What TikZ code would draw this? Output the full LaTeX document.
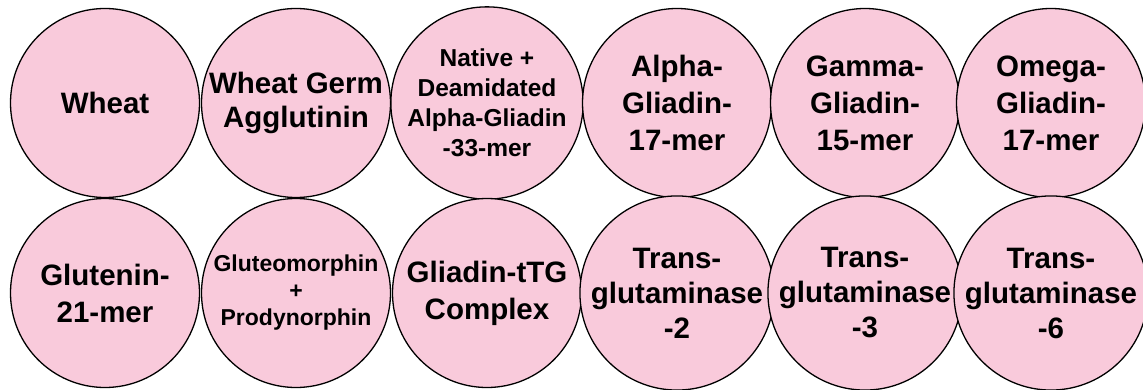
\documentclass[tikz,border=0pt]{standalone}
\usepackage{fontspec}
\setmainfont{Liberation Sans}
\definecolor{pinkfill}{RGB}{249,202,219}
\begin{document}
\begin{tikzpicture}[x=1pt,y=-1pt,
  bubble/.style={circle, draw=black, line width=1.3pt, fill=pinkfill,
    minimum size=189pt, inner sep=0pt, align=center,
    font=\bfseries\fontsize{29.5}{37}\selectfont},
  smalltext/.style={font=\bfseries\fontsize{24.5}{30}\selectfont},
  tinytext/.style={font=\bfseries\fontsize{23}{27}\selectfont}]
\useasboundingbox (0,0) rectangle (1143,390);
% top row
\node[bubble] (wheat) at (105,103) {Wheat};
\node[bubble, font=\bfseries\fontsize{29.5}{34}\selectfont] (wga) at (296,103) {Wheat Germ\\Agglutinin};
\node[bubble, smalltext] (native) at (487,103) {Native +\\Deamidated\\Alpha-Gliadin\\-33-mer};
\node[bubble] (alpha) at (677,103) {Alpha-\\Gliadin-\\17-mer};
\node[bubble] (gamma) at (865,103) {Gamma-\\Gliadin-\\15-mer};
\node[bubble] (omega) at (1051,103) {Omega-\\Gliadin-\\17-mer};
% bottom row
\node[bubble] (glutenin) at (105,293) {Glutenin-\\21-mer};
\node[bubble, tinytext] (gluteo) at (296,293) {Gluteomorphin\\+\\Prodynorphin};
\node[bubble] (complex) at (487,293) {Gliadin-tTG\\Complex};
\node[bubble, font=\bfseries\fontsize{29.5}{35}\selectfont] (tg2) at (677,293) {Trans-\\glutaminase\\-2};
\node[bubble, font=\bfseries\fontsize{29.5}{35}\selectfont] (tg3) at (865,293) {Trans-\\glutaminase\\-3};
\node[bubble, font=\bfseries\fontsize{29.5}{35}\selectfont] (tg6) at (1051,293) {Trans-\\glutaminase\\-6};
\end{tikzpicture}
\end{document}
